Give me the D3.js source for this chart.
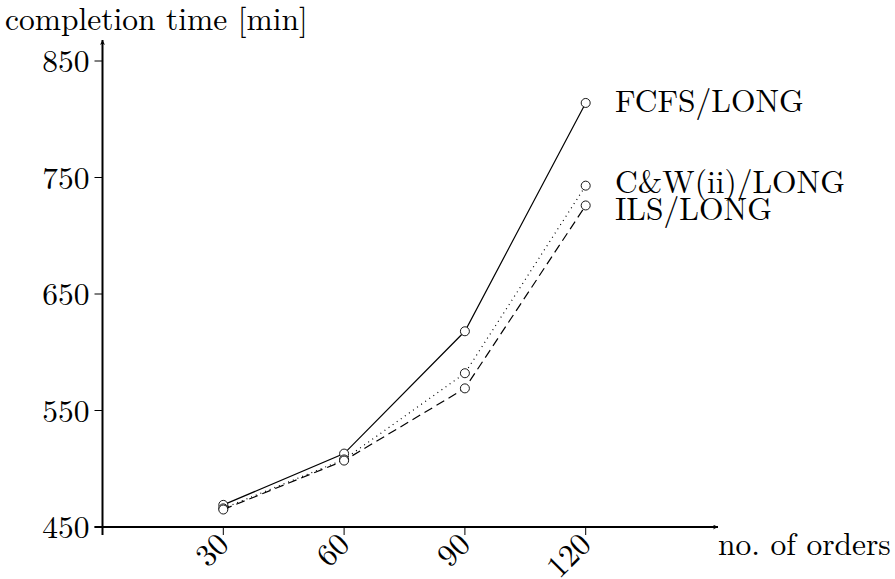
<!DOCTYPE html>
<html>
<head>
<meta charset="utf-8">
<script src="https://cdn.jsdelivr.net/npm/d3@7"></script>
<style>
  body { margin: 0; background: #fff; }
  svg text { font-family: "Latin Modern Roman", "CMU Serif", "Liberation Serif", serif; fill: #000; }
</style>
</head>
<body>
<svg id="chart" width="895" height="579"></svg>
<script>
// data
const orders = [30, 60, 90, 120];
const fcfs = [469, 513, 618, 814];
const cwii = [466, 508, 582, 743];
const ils = [465, 507, 569, 726];
const seriesNames = ['FCFS/LONG', 'C&W(ii)/LONG', 'ILS/LONG'];
const yTicks = [450, 550, 650, 750, 850];

const series = [
  { name: seriesNames[0], values: fcfs, dash: null },
  { name: seriesNames[1], values: cwii, dash: '1,4' },
  { name: seriesNames[2], values: ils, dash: '9,5' }
];

const svg = d3.select('#chart');
const x = d3.scaleLinear().domain([0, 120]).range([102.5, 585.7]);
const y = d3.scaleLinear().domain([450, 850]).range([527, 61]);

const fs = 31.5;

// axes
svg.append('defs').append('marker')
  .attr('id', 'arrow')
  .attr('viewBox', '0 0 10 10')
  .attr('refX', 10).attr('refY', 5)
  .attr('markerWidth', 5).attr('markerHeight', 5)
  .attr('markerUnits', 'userSpaceOnUse')
  .attr('orient', 'auto')
  .append('path')
  .attr('d', 'M0,0 L10,5 L0,10 L3,5 Z')
  .attr('fill', '#000');

const axisG = svg.append('g');
axisG.append('line')
  .attr('x1', x(0)).attr('y1', y(450) + 8)
  .attr('x2', x(0)).attr('y2', 40)
  .attr('stroke', '#000').attr('stroke-width', 2)
  .attr('marker-end', 'url(#arrow)');
axisG.append('line')
  .attr('x1', x(0) - 8).attr('y1', y(450))
  .attr('x2', 718).attr('y2', y(450))
  .attr('stroke', '#000').attr('stroke-width', 2)
  .attr('marker-end', 'url(#arrow)');

// y ticks
const yt = axisG.selectAll('.yt').data(yTicks).enter().append('g')
  .attr('transform', d => `translate(0,${y(d)})`);
yt.append('line')
  .attr('x1', x(0) - 8).attr('x2', x(0))
  .attr('stroke', '#000').attr('stroke-width', 1);
yt.append('text')
  .attr('x', x(0) - 13).attr('dy', '0.35em')
  .attr('text-anchor', 'end')
  .style('font-size', fs + 'px')
  .text(d => d);

// x ticks, labels turned 45 degrees
const xt = axisG.selectAll('.xt').data(orders).enter().append('g')
  .attr('transform', d => `translate(${x(d)},${y(450)})`);
xt.append('line')
  .attr('y1', 0).attr('y2', 8)
  .attr('stroke', '#000').attr('stroke-width', 1);
xt.append('text')
  .attr('transform', 'translate(7,19) rotate(-45)')
  .attr('text-anchor', 'end')
  .style('font-size', fs + 'px')
  .text(d => d);

// axis titles
svg.append('text')
  .attr('x', 5).attr('y', 30)
  .style('font-size', fs + 'px')
  .text('completion time [min]');
svg.append('text')
  .attr('x', 718).attr('y', 555)
  .style('font-size', fs + 'px')
  .text('no. of orders');

// series
const line = d3.line().x((d, i) => x(orders[i])).y(d => y(d));
const sg = svg.selectAll('.series').data(series).enter().append('g');
sg.append('path')
  .attr('d', d => line(d.values))
  .attr('fill', 'none')
  .attr('stroke', '#000')
  .attr('stroke-width', 1.2)
  .attr('stroke-dasharray', d => d.dash);
sg.selectAll('circle').data(d => d.values).enter().append('circle')
  .attr('cx', (d, i) => x(orders[i]))
  .attr('cy', d => y(d))
  .attr('r', 4.5)
  .attr('fill', '#fff')
  .attr('stroke', '#000')
  .attr('stroke-width', 0.9);

// labels at line ends
const labelY = [112, 193, 220];
sg.append('text')
  .attr('x', 615)
  .attr('y', (d, i) => labelY[i])
  .style('font-size', fs + 'px')
  .text(d => d.name);
</script>
</body>
</html>
